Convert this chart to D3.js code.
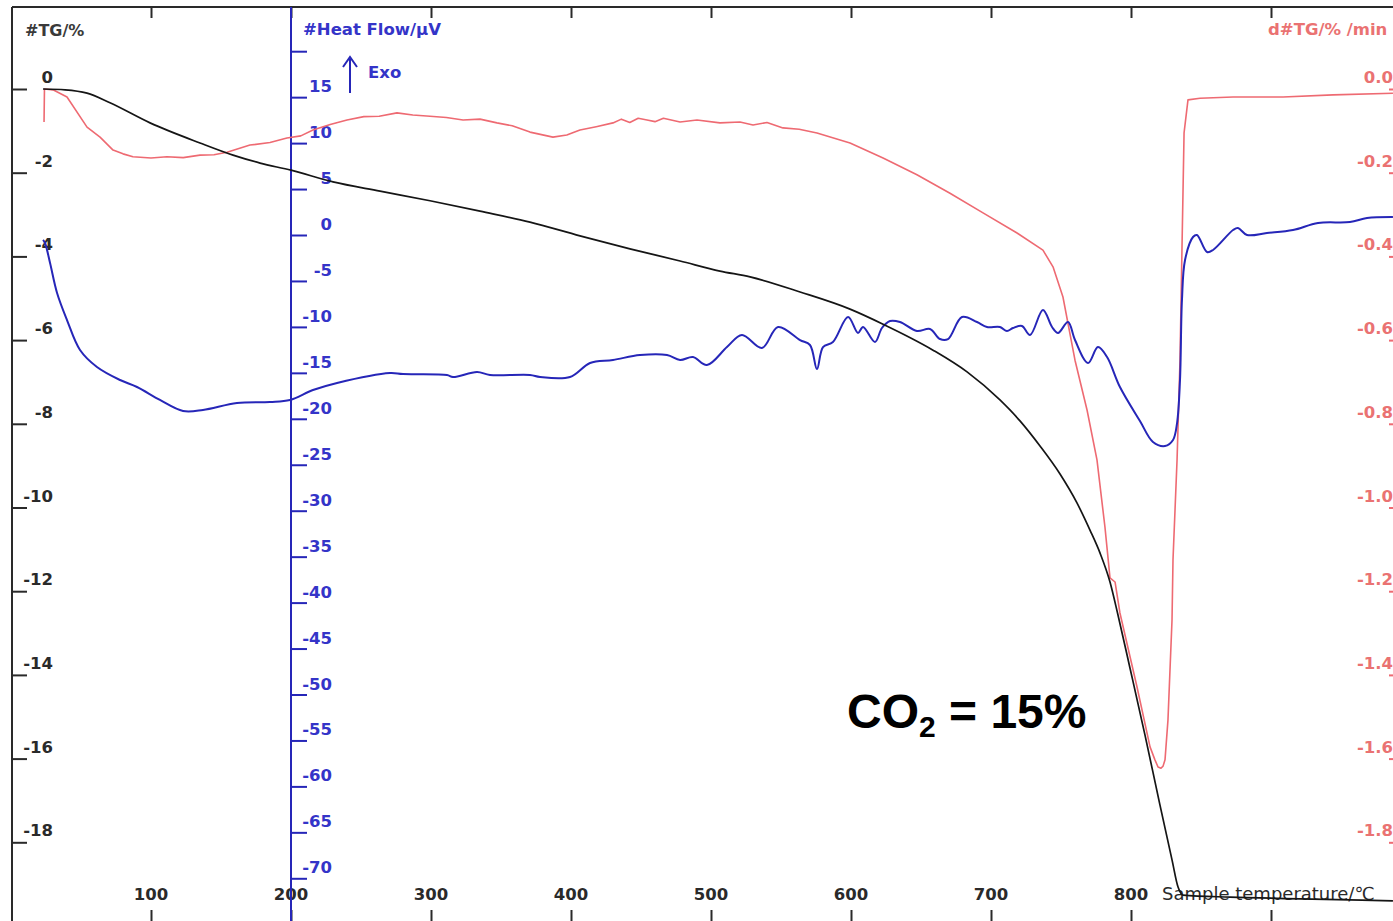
<!DOCTYPE html>
<html>
<head>
<meta charset="utf-8">
<script src="https://cdn.jsdelivr.net/npm/d3@7"></script>
<style>
  html, body { margin: 0; padding: 0; background: #fff; }
  svg { display: block; }
</style>
</head>
<body>
<svg id="chart" width="1393" height="921"></svg>
<script>
// ---------------- data ----------------
const tempTicks = [100, 200, 300, 400, 500, 600, 700, 800, 900];
const tempLabels = [100, 200, 300, 400, 500, 600, 700, 800];
const tgTicks = [0, -2, -4, -6, -8, -10, -12, -14, -16, -18];
const hfTicks = [20, 15, 10, 5, 0, -5, -10, -15, -20, -25, -30, -35, -40, -45, -50, -55, -60, -65, -70];
const hfLabels = [15, 10, 5, 0, -5, -10, -15, -20, -25, -30, -35, -40, -45, -50, -55, -60, -65, -70];
const dtgTicks = [0, -0.2, -0.4, -0.6, -0.8, -1.0, -1.2, -1.4, -1.6, -1.8];

// TG (%) vs sample temperature (°C)
const tgTemp = [22.9, 38.6, 54.3, 70.7, 99.3, 135.0, 158.6, 177.9, 200.0, 230.0, 263.6, 299.3, 335.0, 370.7,
  406.4, 442.1, 477.9, 506.4, 527.9, 563.6, 599.3, 622.9, 658.6, 682.9, 706.4, 720.7, 735.0, 749.3, 761.4, 770.7,
  777.9, 785.0, 790.7, 799.3, 810.0, 820.7, 829.3, 833.6, 837.1, 870.7, 920.7, 987.1];
const tgValues = [0.00, -0.02, -0.10, -0.33, -0.81, -1.29, -1.58, -1.77, -1.94, -2.22, -2.44, -2.67, -2.92, -3.18,
  -3.51, -3.82, -4.11, -4.35, -4.49, -4.85, -5.26, -5.62, -6.24, -6.76, -7.43, -7.93, -8.53, -9.20, -9.89, -10.54,
  -11.09, -11.78, -12.57, -13.84, -15.44, -17.11, -18.42, -19.07, -19.26, -19.31, -19.35, -19.40];

// DTG (%/min) vs sample temperature (°C)
const dtgTemp = [23.6, 23.9, 30.0, 40.0, 54.3, 63.6, 72.9, 80.0, 87.1, 100.0, 111.4, 123.0, 135.0, 145.0, 154.3, 170.7, 185.0, 197.1,
  207.0, 215.7, 228.0, 240.0, 252.0, 263.0, 275.7, 287.0, 299.3, 311.0, 322.9, 335.0, 347.1, 358.0, 370.7, 387.1, 397.0, 406.4,
  418.0, 430.0, 436.0, 442.0, 448.0, 454.3, 460.0, 466.0, 477.9, 490.0, 506.4, 520.7, 530.0, 540.0, 551.4, 563.0, 575.7,
  599.3, 622.9, 647.1, 670.7, 694.3, 718.6, 737.1, 744.3, 751.4, 760.0, 768.6, 775.7, 781.4, 785.0, 788.6, 792.1,
  804.3, 813.6, 817.1, 819.3, 821.4, 822.9, 824.3, 826.4, 829.3, 830.0, 832.9, 835.0, 836.4, 837.9, 840.7, 849.3, 872.9, 908.6, 944.3, 987.1];
const dtgValues = [-0.079, 0.000, -0.002, -0.019, -0.091, -0.115, -0.146, -0.155, -0.162, -0.165, -0.162, -0.164, -0.158, -0.157, -0.151, -0.134, -0.128, -0.117,
  -0.112, -0.098, -0.085, -0.074, -0.066, -0.065, -0.057, -0.062, -0.065, -0.068, -0.074, -0.072, -0.081, -0.088, -0.103, -0.115, -0.110, -0.098,
  -0.090, -0.081, -0.072, -0.080, -0.070, -0.074, -0.078, -0.070, -0.079, -0.074, -0.081, -0.079, -0.086, -0.080, -0.093, -0.096, -0.105,
  -0.129, -0.165, -0.205, -0.249, -0.296, -0.344, -0.385, -0.425, -0.497, -0.648, -0.767, -0.886, -1.047, -1.168, -1.178, -1.252,
  -1.429, -1.572, -1.603, -1.620, -1.623, -1.618, -1.603, -1.508, -1.269, -1.125, -0.886, -0.648, -0.385, -0.105, -0.026, -0.022, -0.019, -0.019, -0.014, -0.010];

// Heat flow (µV) vs sample temperature (°C)
const hfTemp = [22.9, 24.3, 27.9, 32.9, 40.0, 49.3, 61.4, 77.9, 90.0, 106.4, 122.9, 137.1, 161.4, 185.0, 199.3, 215.7, 232.9,
  270.7, 280.0, 311.4, 315.7, 332.9, 342.1, 370.7, 377.9, 399.3, 413.6, 430.0, 449.3, 468.6, 477.9, 487.1, 497.1,
  511.4, 522.1, 536.4, 547.9, 563.6, 570.7, 575.7, 580.0, 587.1, 597.9, 605.0, 608.6, 617.1, 622.1, 627.9, 635.0,
  647.1, 656.4, 663.6, 669.3, 679.3, 690.0, 697.1, 706.4, 711.4, 715.7, 722.1, 727.9, 737.1, 743.6, 747.9, 755.0,
  760.0, 769.3, 776.4, 782.9, 792.1, 806.4, 815.7, 824.3, 830.0, 832.9, 835.0, 836.4, 838.6, 844.3, 847.1, 854.3,
  858.6, 872.9, 876.4, 882.9, 897.1, 915.7, 933.6, 956.4, 968.6, 987.1];
const hfValues = [-0.54, -0.87, -3.05, -6.31, -9.25, -12.51, -14.36, -15.78, -16.54, -17.95, -19.15, -19.04, -18.28, -18.17, -17.95, -16.87, -16.10,
  -15.02, -15.13, -15.23, -15.45, -14.91, -15.23, -15.23, -15.45, -15.45, -13.93, -13.60, -13.06, -13.06, -13.60, -13.28, -14.15,
  -12.19, -10.88, -12.30, -10.01, -11.43, -11.97, -14.58, -12.19, -11.64, -8.92, -10.66, -10.01, -11.64, -10.12, -9.36, -9.47,
  -10.45, -10.23, -11.32, -11.32, -8.92, -9.47, -10.01, -10.01, -10.45, -10.12, -9.90, -10.88, -8.16, -10.01, -10.66, -9.47,
  -11.43, -13.93, -12.19, -13.28, -16.54, -20.24, -22.52, -22.96, -22.31, -20.46, -15.78, -7.07, -2.72, -0.22, 0.00, -1.85,
  -1.63, 0.54, 0.76, 0.00, 0.22, 0.54, 1.31, 1.41, 1.85, 1.96];

// ---------------- drawing ----------------
const svg = d3.select("#chart");
const W = 1393, H = 921;
const FONT = "'DejaVu Sans', sans-serif";
const BLUE = "#2626b8", BLUE_TXT = "#3434c8", RED = "#ee6a72", RED_TXT = "#ea7272", DARK = "#2a2a2a";

const x = d3.scaleLinear().domain([0, 1000]).range([11, 1411]);
const yTG = d3.scaleLinear().domain([0, -20]).range([89, 926]);
const yDTG = d3.scaleLinear().domain([0, -2]).range([89, 926]);
const yHF = d3.scaleLinear().domain([0, -70]).range([235, 878.3]);

// frame
svg.append("line").attr("x1", 12).attr("x2", W).attr("y1", 7).attr("y2", 7).attr("stroke", DARK).attr("stroke-width", 2);
svg.append("line").attr("x1", 12).attr("x2", 12).attr("y1", 7).attr("y2", H).attr("stroke", DARK).attr("stroke-width", 2);

// top & bottom temperature ticks
const topAxis = d3.axisBottom(x).tickValues(tempTicks).tickSize(11).tickFormat("");
const gTop = svg.append("g").attr("transform", "translate(0,7)").call(topAxis);
gTop.select(".domain").remove();
gTop.selectAll("line").attr("stroke", DARK).attr("stroke-width", 2);

const bottomAxis = d3.axisTop(x).tickValues(tempTicks).tickSize(11).tickFormat("");
const gBot = svg.append("g").attr("transform", "translate(0,921)").call(bottomAxis);
gBot.select(".domain").remove();
gBot.selectAll("line").attr("stroke", DARK).attr("stroke-width", 2);

svg.append("g").selectAll("text").data(tempLabels).join("text")
  .attr("x", d => x(d)).attr("y", 900).attr("text-anchor", "middle")
  .attr("font-family", FONT).attr("font-weight", "bold").attr("font-size", 16.5).attr("fill", DARK)
  .text(d => d);

svg.append("text").attr("x", 1162).attr("y", 900)
  .attr("font-family", FONT).attr("font-size", 18).attr("fill", DARK)
  .text("Sample temperature/\u2103");

// left TG axis
const leftAxis = d3.axisRight(yTG).tickValues(tgTicks).tickSize(15).tickFormat("");
const gLeft = svg.append("g").attr("transform", "translate(12,0)").call(leftAxis);
gLeft.select(".domain").remove();
gLeft.selectAll("line").attr("stroke", DARK).attr("stroke-width", 2);
svg.append("g").selectAll("text").data(tgTicks).join("text")
  .attr("x", 53).attr("y", d => yTG(d) - 6).attr("text-anchor", "end")
  .attr("font-family", FONT).attr("font-weight", "bold").attr("font-size", 16.5).attr("fill", DARK)
  .text(d => d);
svg.append("text").attr("x", 25).attr("y", 36)
  .attr("font-family", FONT).attr("font-weight", "bold").attr("font-size", 16).attr("fill", "#3a3a3a")
  .text("#TG/%");

// heat flow axis
svg.append("line").attr("x1", 291).attr("x2", 291).attr("y1", 7).attr("y2", H).attr("stroke", BLUE).attr("stroke-width", 2);
const hfAxis = d3.axisRight(yHF).tickValues(hfTicks).tickSize(16).tickFormat("");
const gHF = svg.append("g").attr("transform", "translate(291,0)").call(hfAxis);
gHF.select(".domain").remove();
gHF.selectAll("line").attr("stroke", BLUE).attr("stroke-width", 2);
svg.append("g").selectAll("text").data(hfLabels).join("text")
  .attr("x", 332).attr("y", d => yHF(d) - 5).attr("text-anchor", "end")
  .attr("font-family", FONT).attr("font-weight", "bold").attr("font-size", 16.5).attr("fill", BLUE_TXT)
  .text(d => d);
svg.append("text").attr("x", 303).attr("y", 35)
  .attr("font-family", FONT).attr("font-weight", "bold").attr("font-size", 16.5).attr("fill", BLUE_TXT)
  .text("#Heat Flow/\u03bcV");
// Exo arrow
svg.append("line").attr("x1", 350).attr("x2", 350).attr("y1", 59).attr("y2", 93).attr("stroke", BLUE).attr("stroke-width", 2);
svg.append("path").attr("d", "M343,67 L350,57 L357,67").attr("fill", "none").attr("stroke", BLUE).attr("stroke-width", 2);
svg.append("text").attr("x", 368).attr("y", 78)
  .attr("font-family", FONT).attr("font-weight", "bold").attr("font-size", 16.5).attr("fill", BLUE_TXT)
  .text("Exo");

// right DTG axis
const rightAxis = d3.axisRight(yDTG).tickValues(dtgTicks).tickSize(15).tickFormat("");
const gRight = svg.append("g").attr("transform", "translate(1389,0)").call(rightAxis);
gRight.select(".domain").remove();
gRight.selectAll("line").attr("stroke", RED).attr("stroke-width", 2);
svg.append("g").selectAll("text").data(dtgTicks).join("text")
  .attr("x", 1393).attr("y", d => yDTG(d) - 6).attr("text-anchor", "end")
  .attr("font-family", FONT).attr("font-weight", "bold").attr("font-size", 16.5).attr("fill", RED_TXT)
  .text(d => d.toFixed(1));
svg.append("text").attr("x", 1268).attr("y", 35)
  .attr("font-family", FONT).attr("font-weight", "bold").attr("font-size", 16.5).attr("fill", RED_TXT)
  .text("d#TG/% /min");

// curves
const tgData = tgTemp.map((t, i) => [t, tgValues[i]]);
const dtgData = dtgTemp.map((t, i) => [t, dtgValues[i]]);
const hfData = hfTemp.map((t, i) => [t, hfValues[i]]);

svg.append("path").datum(dtgData)
  .attr("d", d3.line().x(d => x(d[0])).y(d => yDTG(d[1])))
  .attr("fill", "none").attr("stroke", RED).attr("stroke-width", 1.6).attr("stroke-linejoin", "round");

svg.append("path").datum(hfData)
  .attr("d", d3.line().x(d => x(d[0])).y(d => yHF(d[1])).curve(d3.curveCatmullRom.alpha(0.5)))
  .attr("fill", "none").attr("stroke", BLUE).attr("stroke-width", 2).attr("stroke-linejoin", "round");

svg.append("path").datum(tgData)
  .attr("d", d3.line().x(d => x(d[0])).y(d => yTG(d[1])).curve(d3.curveMonotoneX))
  .attr("fill", "none").attr("stroke", "#151515").attr("stroke-width", 1.7).attr("stroke-linejoin", "round");

// annotation
const ann = svg.append("text").attr("x", 847).attr("y", 728)
  .attr("font-family", "'Liberation Sans', Arial, sans-serif").attr("font-weight", "bold")
  .attr("font-size", 48).attr("fill", "#000");
ann.append("tspan").text("CO");
ann.append("tspan").attr("font-size", 30).attr("dy", 9).text("2");
ann.append("tspan").attr("dy", -9).text(" = 15%");
</script>
</body>
</html>
